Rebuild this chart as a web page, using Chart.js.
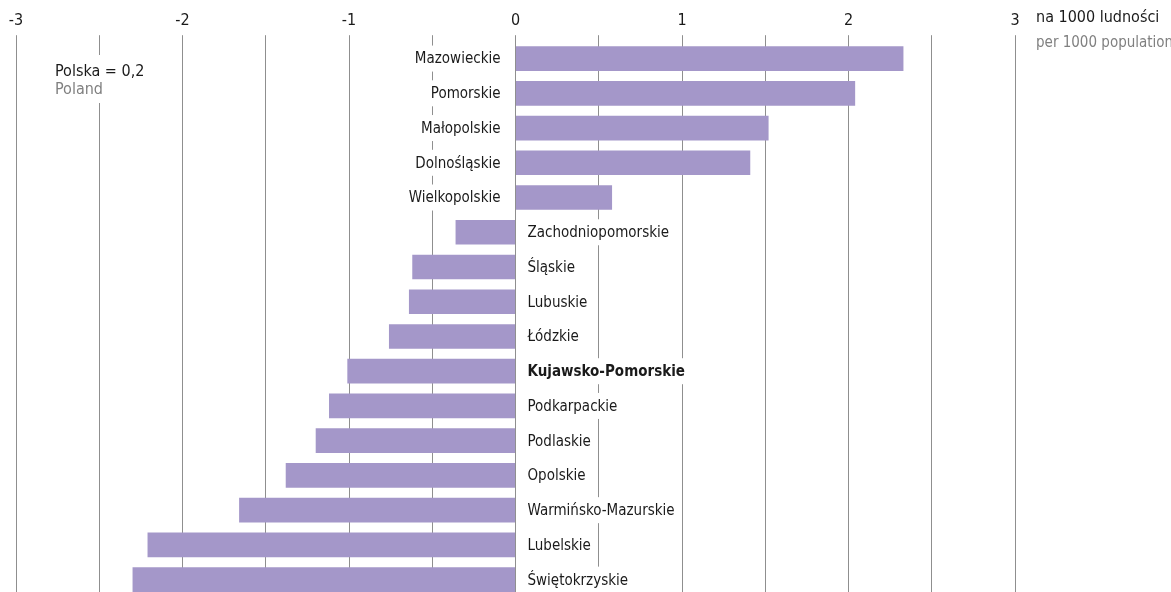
<!DOCTYPE html>
<html>
<head>
<meta charset="utf-8">
<script src="https://cdn.jsdelivr.net/npm/chart.js@4.4.1/dist/chart.umd.min.js"></script>
<style>
  html, body { margin: 0; padding: 0; background: #fff; overflow: hidden; }
  canvas { display: block; }
</style>
</head>
<body>
<canvas id="chart" width="1171" height="597"></canvas>
<script>
const regions = ['Mazowieckie', 'Pomorskie', 'Małopolskie', 'Dolnośląskie', 'Wielkopolskie',
    'Zachodniopomorskie', 'Śląskie', 'Lubuskie', 'Łódzkie', 'Kujawsko-Pomorskie',
    'Podkarpackie', 'Podlaskie', 'Opolskie', 'Warmińsko-Mazurskie', 'Lubelskie', 'Świętokrzyskie'];
const values = [2.33, 2.04, 1.52, 1.41, 0.58, -0.36, -0.62, -0.64, -0.76, -1.01,
    -1.12, -1.20, -1.38, -1.66, -2.21, -2.30];
const highlighted = 'Kujawsko-Pomorskie';
const tickLabels = ['-3', '-2', '-1', '0', '1', '2', '3'];
const unitText = ['na 1000 ludności', 'per 1000 population'];
const averageText = ['Polska = 0,2', 'Poland'];

const FONT = "'DejaVu Sans Condensed', 'Liberation Sans Narrow', sans-serif";
const GRID = '#8f8f8f';

// region names sit next to the zero line, on the side opposite to the bar
const regionLabels = {
    id: 'regionLabels',
    afterDatasetsDraw(chart) {
        const ctx = chart.ctx;
        const x0 = chart.scales.x.getPixelForValue(0);
        const meta = chart.getDatasetMeta(0);
        ctx.save();
        ctx.textBaseline = 'middle';
        meta.data.forEach((bar, i) => {
            const name = regions[i];
            ctx.font = (name === highlighted ? 'bold ' : '') + '15px ' + FONT;
            const w = ctx.measureText(name).width;
            const positive = values[i] >= 0;
            const tx = positive ? x0 - 15 : x0 + 12;
            const left = positive ? tx - w - 4 : tx - 4;
            ctx.fillStyle = '#fff';
            ctx.fillRect(left, bar.y - 13, w + 8, 26);
            ctx.fillStyle = '#1a1a1a';
            ctx.textAlign = positive ? 'right' : 'left';
            ctx.fillText(name, tx, bar.y + 1);
        });
        ctx.restore();
    }
};

const sideTexts = {
    id: 'sideTexts',
    afterDraw(chart) {
        const ctx = chart.ctx;
        ctx.save();
        ctx.textBaseline = 'middle';
        ctx.textAlign = 'left';

        ctx.fillStyle = '#fff';
        ctx.fillRect(50, 55, 105, 48);
        ctx.font = '16px ' + FONT;
        ctx.fillStyle = '#1a1a1a';
        ctx.fillText(averageText[0], 55, 72);
        ctx.fillStyle = '#808080';
        ctx.fillText(averageText[1], 55, 90);

        ctx.fillStyle = '#1a1a1a';
        ctx.fillText(unitText[0], 1036, 18);
        ctx.font = '15px ' + FONT;
        ctx.fillStyle = '#808080';
        ctx.fillText(unitText[1], 1036, 43);
        ctx.restore();
    }
};

new Chart(document.getElementById('chart'), {
    type: 'bar',
    data: {
        labels: regions,
        datasets: [{
            data: values,
            backgroundColor: '#a497c9',
            borderWidth: 0,
            barPercentage: 0.71,
            categoryPercentage: 1
        }]
    },
    options: {
        indexAxis: 'y',
        responsive: false,
        animation: false,
        layout: { padding: { left: 16, right: 156, top: 6, bottom: 0 } },
        plugins: { legend: { display: false }, tooltip: { enabled: false } },
        scales: {
            x: {
                position: 'top',
                min: -3,
                max: 3,
                border: { display: false },
                grid: { color: GRID, lineWidth: 1, tickLength: 6, drawTicks: true },
                ticks: {
                    stepSize: 0.5,
                    autoSkip: false,
                    maxRotation: 0,
                    padding: 5,
                    color: '#1a1a1a',
                    font: { family: FONT, size: 16 },
                    callback: (v) => Number.isInteger(v) ? tickLabels[v + 3] : ''
                }
            },
            y: { display: false }
        }
    },
    plugins: [regionLabels, sideTexts]
});
</script>
</body>
</html>
